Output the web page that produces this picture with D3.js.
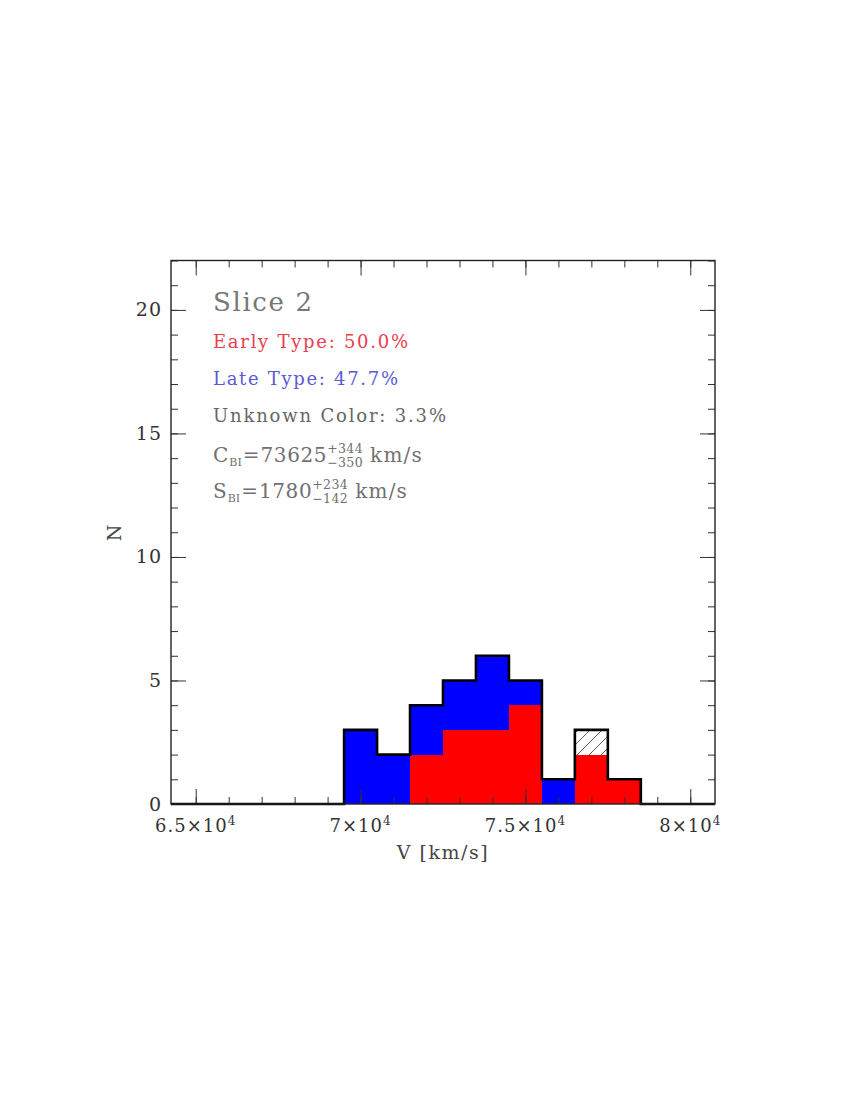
<!DOCTYPE html>
<html><head><meta charset="utf-8">
<script src="https://cdn.jsdelivr.net/npm/d3@7"></script>
<style>body{margin:0;background:#fff}</style>
</head><body>
<svg id="c" width="850" height="1100"></svg>
<script>
// ---- data ----
const binCenters = [70000, 71000, 72000, 73000, 74000, 75000, 76000, 77000, 78000];
const binWidth = 1000;
const earlyCounts = [0, 0, 2, 3, 3, 4, 0, 2, 1];
const lateCounts = [3, 2, 2, 2, 3, 1, 1, 0, 0];
const unknownCounts = [0, 0, 0, 0, 0, 0, 0, 1, 0];
const xMajorTicks = [65000, 70000, 75000, 80000];
const xTickMantissa = ["6.5", "7", "7.5", "8"];
const xTickExponent = "4";
const yMajorTicks = [0, 5, 10, 15, 20];
const titleLabel = "Slice 2";
const earlyLabel = "Early Type: 50.0%";
const lateLabel = "Late Type: 47.7%";
const unknownLabel = "Unknown Color: 3.3%";
const cbi = {name: "C", sub: "BI", value: "73625", plus: "+344", minus: "\u2212350", unit: "km/s"};
const sbi = {name: "S", sub: "BI", value: "1780", plus: "+234", minus: "\u2212142", unit: "km/s"};
const xLabel = "V [km/s]";
const yLabel = "N";

// ---- layout ----
const svg = d3.select("#c");
const L = 171, R = 715, T = 260.5, B = 804;
const x = d3.scaleLinear().domain([64250, 80750]).range([L, R]);
const y = d3.scaleLinear().domain([0, 22]).range([B, T]);
const FONT = "'DejaVu Serif', serif";

const defs = svg.append("defs");
const pat = defs.append("pattern").attr("id", "hatch").attr("patternUnits", "userSpaceOnUse")
  .attr("width", 12).attr("height", 12);
pat.append("rect").attr("width", 12).attr("height", 12).attr("fill", "#fff");
pat.append("path").attr("d", "M-2,2 L2,-2 M0,12 L12,0 M10,14 L14,10").attr("stroke", "#333").attr("stroke-width", 0.8);

// bars
const bins = binCenters.map((c, i) => ({
  x0: c - binWidth / 2, x1: c + binWidth / 2,
  e: earlyCounts[i], l: lateCounts[i], u: unknownCounts[i]
}));
const g = svg.append("g").attr("shape-rendering", "crispEdges");
bins.forEach(b => {
  const layers = [
    {lo: 0, hi: b.e, fill: "#ff0000"},
    {lo: b.e, hi: b.e + b.l, fill: "#0000ff"},
    {lo: b.e + b.l, hi: b.e + b.l + b.u, fill: "url(#hatch)"}
  ];
  layers.forEach(s => {
    if (s.hi > s.lo) {
      g.append("rect").attr("x", x(b.x0)).attr("width", x(b.x1) - x(b.x0) + 0.6)
        .attr("y", y(s.hi)).attr("height", y(s.lo) - y(s.hi)).attr("fill", s.fill);
    }
  });
});

// ticks (inside, all four sides)
const xMinor = d3.range(65000, 80001, 1000);
const yMinor = d3.range(0, 22.01, 1);
function tickStyle(sel) {
  sel.select(".domain").remove();
  sel.selectAll("line").attr("stroke", "#333").attr("stroke-width", 1);
  sel.selectAll("text").remove();
}
svg.append("g").attr("transform", `translate(0,${B})`).call(d3.axisBottom(x).tickValues(xMinor).tickSize(-7)).call(tickStyle);
svg.append("g").attr("transform", `translate(0,${B})`).call(d3.axisBottom(x).tickValues(xMajorTicks).tickSize(-15)).call(tickStyle);
svg.append("g").attr("transform", `translate(0,${T})`).call(d3.axisTop(x).tickValues(xMinor).tickSize(-7)).call(tickStyle);
svg.append("g").attr("transform", `translate(0,${T})`).call(d3.axisTop(x).tickValues(xMajorTicks).tickSize(-15)).call(tickStyle);
svg.append("g").attr("transform", `translate(${L},0)`).call(d3.axisLeft(y).tickValues(yMinor).tickSize(-7)).call(tickStyle);
svg.append("g").attr("transform", `translate(${L},0)`).call(d3.axisLeft(y).tickValues(yMajorTicks).tickSize(-15)).call(tickStyle);
svg.append("g").attr("transform", `translate(${R},0)`).call(d3.axisRight(y).tickValues(yMinor).tickSize(-7)).call(tickStyle);
svg.append("g").attr("transform", `translate(${R},0)`).call(d3.axisRight(y).tickValues(yMajorTicks).tickSize(-15)).call(tickStyle);

// histogram outline
const totals = bins.map(b => b.e + b.l + b.u);
const pts = [[x.domain()[0], 0]];
bins.forEach((b, i) => pts.push([b.x0, totals[i]]));
pts.push([bins[bins.length - 1].x1, 0]);
pts.push([x.domain()[1], 0]);
svg.append("path")
  .attr("d", d3.line().x(d => x(d[0])).y(d => y(d[1])).curve(d3.curveStepAfter)(pts))
  .attr("fill", "none").attr("stroke", "#000").attr("stroke-width", 2.6).attr("stroke-linejoin", "miter");

// frame
svg.append("rect").attr("x", L).attr("y", T).attr("width", R - L).attr("height", B - T)
  .attr("fill", "none").attr("stroke", "#222").attr("stroke-width", 1.4);

// tick labels
const xl = svg.append("g").attr("font-family", FONT).attr("fill", "#333");
xMajorTicks.forEach((v, i) => {
  const t = xl.append("text").attr("x", x(v)).attr("y", 832).attr("text-anchor", "middle")
    .attr("font-size", 18).attr("letter-spacing", 1);
  t.append("tspan").text(xTickMantissa[i] + "\u00d710");
  t.append("tspan").attr("dy", -7).attr("font-size", 12).text(xTickExponent);
});
const yl = svg.append("g").attr("font-family", FONT).attr("fill", "#333");
yMajorTicks.forEach(v => {
  yl.append("text").attr("x", 162).attr("y", y(v) + 6.5).attr("text-anchor", "end")
    .attr("font-size", 19).attr("letter-spacing", 1).text(v);
});

// axis titles
svg.append("text").attr("x", 443).attr("y", 859).attr("text-anchor", "middle")
  .attr("font-family", FONT).attr("font-size", 19).attr("letter-spacing", 1.5).attr("fill", "#444").text(xLabel);
svg.append("text").attr("transform", "translate(121,533) rotate(-90)").attr("text-anchor", "middle")
  .attr("font-family", FONT).attr("font-size", 19).attr("fill", "#444").text(yLabel);

// annotation text
const ax = 213;
function line(txt, yy, size, color, width) {
  svg.append("text").attr("x", ax).attr("y", yy).attr("font-family", FONT).attr("font-size", size)
    .attr("fill", color).attr("textLength", width).attr("lengthAdjust", "spacing").text(txt);
}
line(titleLabel, 311, 26, "#777", 99);
line(earlyLabel, 348, 18, "#e8404c", 195);
line(lateLabel, 385, 18, "#5a5ad8", 185);
line(unknownLabel, 422, 18, "#666", 233);

function stat(s, yy) {
  const fs = 20, col = "#707070";
  let cx = ax;
  function piece(txt, px, py, size, ls) {
    const t = svg.append("text").attr("x", px).attr("y", py).attr("font-family", FONT)
      .attr("font-size", size).attr("fill", col).attr("letter-spacing", ls).text(txt);
    return t.node().getComputedTextLength();
  }
  cx += piece(s.name, cx, yy, fs, 1);
  cx += piece(s.sub, cx, yy + 4, 11, 0) + 1;
  cx += piece("=", cx, yy, fs, 1);
  cx += piece(s.value, cx, yy, fs, 0.6);
  const w1 = piece(s.plus, cx, yy - 9, 12.5, 0.4);
  const w2 = piece(s.minus, cx, yy + 5, 12.5, 0.4);
  cx += Math.max(w1, w2) + 7;
  piece(s.unit, cx, yy, fs, 1.2);
}
stat(cbi, 462);
stat(sbi, 498);
</script>
</body></html>
